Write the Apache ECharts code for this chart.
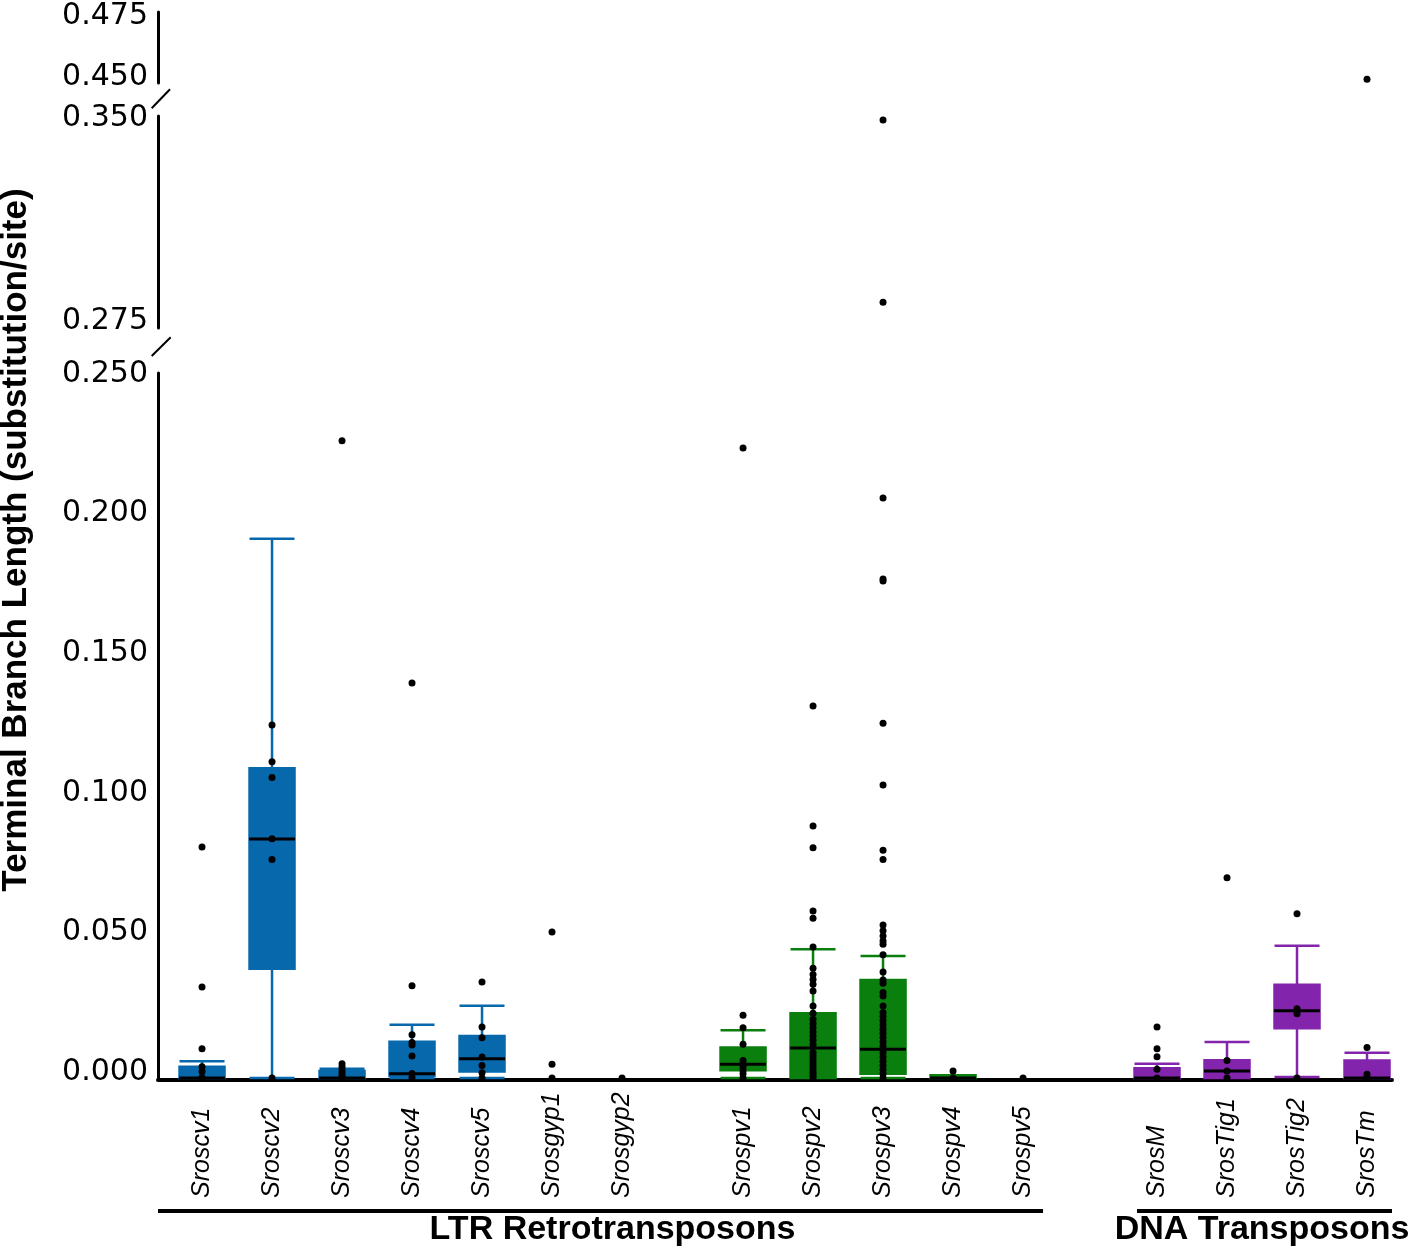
<!DOCTYPE html>
<html><head><meta charset="utf-8">
<script src="https://cdn.jsdelivr.net/npm/echarts@6/dist/echarts.min.js"></script>
<style>html,body{margin:0;padding:0;background:#fff}#c{width:1412px;height:1249px}</style>
</head><body><div id="c"></div>
<script>
// ---------------- DATA ----------------
const ltrScvGyp = ['Sroscv1','Sroscv2','Sroscv3','Sroscv4','Sroscv5','Srosgyp1','Srosgyp2'];
const ltrSpv = ['Srospv1','Srospv2','Srospv3','Srospv4','Srospv5'];
const dnaTransposons = ['SrosM','SrosTig1','SrosTig2','SrosTm'];
const categories = [...ltrScvGyp, ...ltrSpv, ...dnaTransposons];
const groupLabels = ['LTR Retrotransposons', 'DNA Transposons'];
const yTitle = 'Terminal Branch Length (substitution/site)';

// box statistics (null = no box drawn)
const boxMin    = [0, 0,      0,      0,      0,      null, null, 0,      0,      0,      0,      null, 0,      0,      0.0004, 0];
const boxQ1     = [0, 0.0391, 0,      0.0007, 0.0023, null, null, 0.0028, 0,      0.0015, 0,      null, 0,      0,      0.0178, 0];
const boxMedian = [0, 0.0856, 0,      0.0015, 0.0069, null, null, 0.0049, 0.0107, 0.0103, 0,      null, 0,      0.0025, 0.0241, 0];
const boxQ3     = [0.004, 0.1109, 0.0025, 0.013, 0.015, null, null, 0.0109, 0.0232, 0.0351, 0.001, null, 0.0035, 0.0064, 0.0334, 0.0063];
const boxMax    = [0.006, 0.1931, 0.0033, 0.0191, 0.0259, null, null, 0.0171, 0.0461, 0.0437, 0.001, null, 0.0051, 0.0129, 0.0474, 0.009];

// individual terminal branch lengths per category
const pointsByCategory = [
  [0.0827, 0.0326, 0.0105, 0.004, 0.0023, 0.0002],
  [0.1264, 0.1133, 0.1076, 0.0857, 0.0783, 0],
  [0.2282, 0.0051, 0.004, 0.003, 0.002, 0.001, 0.0003],
  [0.1415, 0.033, 0.0155, 0.0127, 0.0118, 0.0079, 0.0016, 0.0001],
  [0.0344, 0.0183, 0.0144, 0.0075, 0.0045, 0.0019, 0],
  [0.0523, 0.0049, 0],
  [0],
  [0.2256, 0.0225, 0.018, 0.0121, 0.0063, 0.0049, 0.004, 0.0028, 0.0015, 0],
  [0.1332, 0.0903, 0.0825, 0.0598, 0.0572, 0.0469, 0.0393, 0.0371, 0.0353, 0.0336, 0.0312, 0.0258, 0.0232,
   0.021, 0.0195, 0.018, 0.0165, 0.015, 0.0135, 0.0121, 0.0091, 0.008, 0.0068, 0.0055, 0.0043, 0.0031, 0.002, 0.001, 0],
  [0.3515, 0.2841, 0.2077, 0.1787, 0.178, 0.1271, 0.1049, 0.0816, 0.0783, 0.0548, 0.0527, 0.0509, 0.0491, 0.0479,
   0.0441, 0.038, 0.0351, 0.0339, 0.0306, 0.0294, 0.0258, 0.0235, 0.022, 0.0205, 0.019, 0.0175, 0.016, 0.0145,
   0.013, 0.0115, 0.0103, 0.009, 0.0075, 0.006, 0.0045, 0.003, 0.0015, 0],
  [0.0025, 0],
  [0],
  [0.0183, 0.0105, 0.0076, 0.0031, 0],
  [0.0717, 0.0063, 0.0025, 0],
  [0.0588, 0.0248, 0.023, 0],
  [0.4515, 0.0109, 0.0013, 0.0001]
];

// broken y axis: segment ranges and tick labels (top, middle, bottom)
const yRangeTop = [0.45, 0.4791];
const yRangeMid = [0.27463, 0.35296];
const yRangeBottom = [0, 0.2525];
const yTicksTop = [0.450, 0.475];
const yTicksMid = [0.275, 0.350];
const yTicksBottom = [0.000, 0.050, 0.100, 0.150, 0.200, 0.250];

// ---------------- LAYOUT / STYLE ----------------
const clusterStarts = [0, 7.729, 13.643];         // x position (in category units) of each cluster's first item
const clusterColors = ['#0768ab', '#0a7f0e', '#8324ad'];
const clusters = [ltrScvGyp, ltrSpv, dnaTransposons];
const xPos = [], colorOf = [];
clusters.forEach((cl, c) => cl.forEach((n, k) => { xPos.push(clusterStarts[c] + k); colorOf.push(clusterColors[c]); }));
const X_MIN = -0.629, X_MAX = 17.0;
const GRID_LEFT = 158, GRID_RIGHT = 20;
const rows = [
  {top: 12,  height: 71,  range: yRangeTop,    ticks: yTicksTop},
  {top: 116, height: 212, range: yRangeMid,    ticks: yTicksMid},
  {top: 373, height: 705, range: yRangeBottom, ticks: yTicksBottom}
];
const labelFont = 'DejaVu Sans';

const grid = rows.map(r => ({left: GRID_LEFT, right: GRID_RIGHT, top: r.top, height: r.height}));
const yAxis = rows.map((r, i) => ({
  type: 'value', gridIndex: i, min: r.range[0], max: r.range[1],
  axisLine: {show: true, onZero: false, lineStyle: {color: '#000', width: 3}},
  axisTick: {show: false}, splitLine: {show: false},
  axisLabel: {customValues: r.ticks, formatter: v => v.toFixed(3), color: '#000',
    fontFamily: labelFont, fontSize: 30, margin: 10, verticalAlign: 'bottom', lineHeight: 12}
}));
const xAxis = rows.map((r, i) => {
  const base = {type: 'value', gridIndex: i, min: X_MIN, max: X_MAX, splitLine: {show: false}, axisTick: {show: false}};
  if (i < 2) return Object.assign(base, {show: false});
  return Object.assign(base, {
    offset: 2,
    axisLine: {show: true, onZero: false, lineStyle: {color: '#000', width: 4}},
    axisLabel: {
      customValues: xPos,
      formatter: v => { const i2 = xPos.findIndex(p => Math.abs(p - v) < 1e-6); return i2 >= 0 ? categories[i2] : ''; },
      rotate: 90, align: 'left', verticalAlign: 'middle', margin: 118,
      fontFamily: 'Liberation Sans', fontStyle: 'italic', fontSize: 25, color: '#000'
    }
  });
});

const boxData = [], medianData = [];
categories.forEach((n, i) => {
  if (boxMin[i] === null) return;
  boxData.push({value: [xPos[i], boxMin[i], boxQ1[i], boxMedian[i], boxQ3[i], boxMax[i]],
    itemStyle: {color: colorOf[i], borderColor: colorOf[i]}});
  medianData.push([xPos[i], boxMedian[i]]);
});

const series = [
  {type: 'boxplot', xAxisIndex: 2, yAxisIndex: 2, layout: 'horizontal', boxWidth: [45, 45],
   itemStyle: {borderWidth: 2.5}, data: boxData, silent: true},
  {type: 'scatter', xAxisIndex: 2, yAxisIndex: 2, symbol: 'rect', symbolSize: [46, 3],
   itemStyle: {color: '#000', opacity: 1}, data: medianData, silent: true}
];
rows.forEach((r, gi) => {
  const pts = [];
  pointsByCategory.forEach((vals, i) => vals.forEach(v => {
    if (v >= r.range[0] && v <= r.range[1]) pts.push([xPos[i], v]);
  }));
  series.push({type: 'scatter', xAxisIndex: gi, yAxisIndex: gi, symbol: 'circle', symbolSize: 7,
    itemStyle: {color: '#000', opacity: 1}, data: pts, silent: true, clip: false});
});

const chart = echarts.init(document.getElementById('c'), null, {renderer: 'canvas'});
chart.setOption({animation: false, backgroundColor: '#fff', grid, xAxis, yAxis, series});

// annotations positioned from the axes
const px = x => chart.convertToPixel({xAxisIndex: 2, yAxisIndex: 2}, [x, 0])[0];
const lineY = 1211, groupTextY = 1230;
const ltrEnd = px(xPos[ltrScvGyp.length + ltrSpv.length - 1]) + 20;
const dnaStart = px(xPos[ltrScvGyp.length + ltrSpv.length]) - 20;
const gridRightPx = 1412 - GRID_RIGHT;
const ltrCenter = (px(xPos[0]) + px(xPos[ltrScvGyp.length + ltrSpv.length - 1])) / 2;
const dnaCenter = (px(xPos[ltrScvGyp.length + ltrSpv.length]) + px(xPos[categories.length - 1])) / 2;
const bold = {fontFamily: 'Liberation Sans', fontWeight: 'bold', fontSize: 34, fill: '#000', align: 'center', verticalAlign: 'middle'};
chart.setOption({graphic: [
  {type: 'line', shape: {x1: GRID_LEFT, y1: lineY, x2: ltrEnd, y2: lineY}, style: {stroke: '#000', lineWidth: 4}},
  {type: 'line', shape: {x1: dnaStart, y1: lineY, x2: gridRightPx, y2: lineY}, style: {stroke: '#000', lineWidth: 4}},
  {type: 'text', x: ltrCenter, y: groupTextY, style: Object.assign({text: groupLabels[0]}, bold)},
  {type: 'text', x: dnaCenter, y: groupTextY, style: Object.assign({text: groupLabels[1]}, bold)},
  {type: 'text', x: 16, y: 540, rotation: Math.PI / 2, style: Object.assign({text: yTitle}, bold, {fontSize: 35})},
  // axis break marks
  {type: 'line', shape: {x1: 151.7, y1: 108.3, x2: 170, y2: 89.3}, style: {stroke: '#000', lineWidth: 2}},
  {type: 'line', shape: {x1: 151.7, y1: 356, x2: 170.7, y2: 337.3}, style: {stroke: '#000', lineWidth: 2}}
]});
</script>
</body></html>
